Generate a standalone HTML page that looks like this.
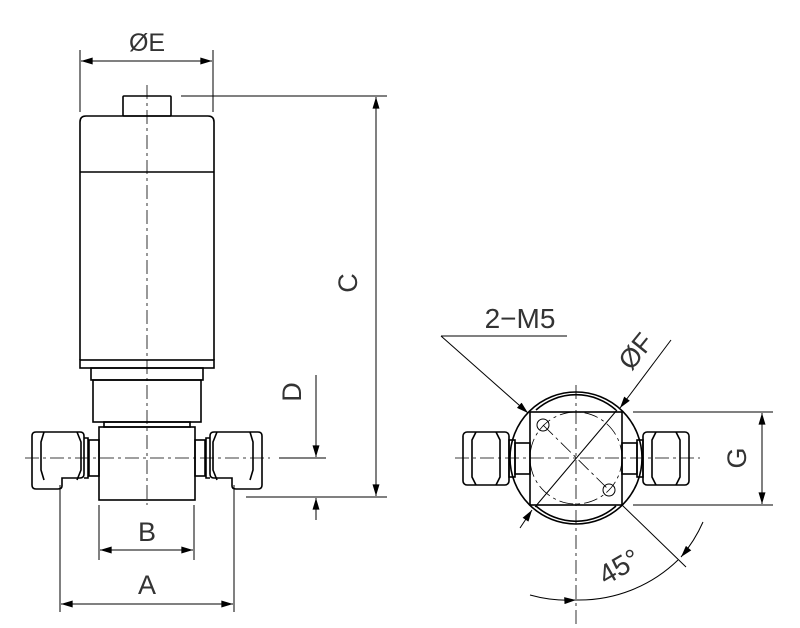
<!DOCTYPE html>
<html><head><style>html,body{margin:0;padding:0;background:#fff}svg{display:block}</style></head>
<body>
<svg width="800" height="628" viewBox="0 0 800 628" xmlns="http://www.w3.org/2000/svg" font-family="Liberation Sans, sans-serif">
<defs>
<marker id="a" viewBox="0 0 10 6" refX="10" refY="3" markerWidth="18" markerHeight="7" markerUnits="userSpaceOnUse" orient="auto-start-reverse"><path d="M0,0 L10,3 L0,6z" fill="#000"/></marker>
<marker id="b" viewBox="0 0 10 10" refX="5" refY="5" markerWidth="9" markerHeight="9" markerUnits="userSpaceOnUse" orient="auto"><rect x="0" y="2" width="10" height="6" fill="#000"/></marker>
</defs>
<g fill="none" stroke="#000" stroke-width="1">
<line x1="80" y1="50" x2="80" y2="112"/><line x1="213" y1="50" x2="213" y2="112"/>
<line x1="81" y1="61" x2="212" y2="61" marker-start="url(#a)" marker-end="url(#a)"/>
<line x1="181" y1="96" x2="387" y2="96"/>
<line x1="376" y1="97" x2="376" y2="496" marker-start="url(#a)" marker-end="url(#a)"/>
<line x1="246" y1="497" x2="387" y2="497"/>
<line x1="279" y1="458" x2="326" y2="458"/>
<line x1="316" y1="375" x2="316" y2="457" marker-end="url(#a)"/>
<line x1="316" y1="520" x2="316" y2="498" marker-end="url(#a)"/>
<line x1="99" y1="505" x2="99" y2="560"/><line x1="194" y1="505" x2="194" y2="560"/>
<line x1="100" y1="550" x2="193" y2="550" marker-start="url(#a)" marker-end="url(#a)"/>
<line x1="60" y1="485" x2="60" y2="612"/><line x1="234" y1="485" x2="234" y2="612"/>
<line x1="61" y1="604" x2="233" y2="604" marker-start="url(#a)" marker-end="url(#a)"/>
</g>
<g fill="none" stroke="#000" stroke-width="1.6">
<rect x="123" y="96" width="48" height="20" rx="1"/>
<path d="M80,360 V122 Q80,116 86,116 H208 Q214,116 214,122 V360"/>
<line x1="80" y1="172" x2="214" y2="172"/>
<rect x="80" y="360" width="134" height="8"/>
<rect x="91" y="368" width="112" height="12"/>
<rect x="93" y="380" width="108" height="42"/>
<rect x="104" y="422" width="86" height="5"/>
<rect x="99" y="427" width="96" height="73"/>
<rect x="89" y="440" width="10" height="36"/>
<path d="M32,436 Q32,432 36,432 H80 Q84,432 84,436 V474 Q84,478 80,478 H62 V486 Q62,489 58,489 H36 Q32,489 32,485 Z"/>
<path d="M44,432 L41,442 V470 L44,480 M77,432 L81,442 V470 L77,480"/>
<path d="M84,438 H88 V478 H84"/>
<rect x="195" y="440" width="10" height="36"/>
<path d="M262,436 Q262,432 258,432 H214 Q210,432 210,436 V474 Q210,478 214,478 H232 V486 Q232,489 236,489 H258 Q262,489 262,485 Z"/>
<path d="M250,432 L253,442 V470 L250,480 M217,432 L213,442 V470 L217,480"/>
<path d="M210,438 H206 V478 H210"/>
</g>
<g stroke="#000" stroke-width="0.8" stroke-dasharray="14,4,3,4" fill="none">
<line x1="147" y1="85" x2="147" y2="505"/>
<line x1="25" y1="458" x2="270" y2="458"/>
</g>
<g fill="none" stroke="#000" stroke-width="1.6">
<circle cx="576" cy="458" r="66"/>
<path d="M536,410 A60,60 0 0 1 616,410"/>
<path d="M536,506 A60,60 0 0 0 616,506"/>
<rect x="530" y="412" width="92" height="93"/>
<rect x="463" y="432" width="46" height="53" rx="4"/>
<path d="M476,432 L472,440 V477 L476,485 M496,432 L500,440 V477 L496,485"/>
<rect x="509" y="440" width="6" height="37"/><rect x="515" y="443" width="15" height="31"/>
<rect x="643" y="432" width="46" height="53" rx="4"/>
<path d="M656,432 L652,440 V477 L656,485 M676,432 L680,440 V477 L676,485"/>
<rect x="637" y="440" width="6" height="37"/><rect x="622" y="443" width="15" height="31"/>
</g>
<g fill="none" stroke="#000" stroke-width="1">
<circle cx="543" cy="425" r="6"/><circle cx="609" cy="490" r="6"/>
<line x1="441" y1="336" x2="567" y2="336"/>
<line x1="441" y1="336" x2="528" y2="413" marker-end="url(#a)"/>
<line x1="671" y1="340" x2="620" y2="408" marker-end="url(#a)"/>
<line x1="617" y1="410" x2="535" y2="507"/>
<line x1="520" y1="528" x2="532" y2="510" marker-end="url(#a)"/>
<line x1="633" y1="412" x2="773" y2="412"/><line x1="633" y1="505" x2="773" y2="505"/>
<line x1="762" y1="413" x2="762" y2="504" marker-start="url(#a)" marker-end="url(#a)"/>
<line x1="622" y1="505" x2="686" y2="567"/>
<path d="M530,595 A142,142 0 0 0 576,600" marker-end="url(#a)"/>
<path d="M576,600 A142,142 0 0 0 678,560"/>
<path d="M703,522 A142,142 0 0 1 681,557" marker-end="url(#a)"/>
</g>
<g stroke="#000" stroke-width="0.8" stroke-dasharray="14,4,3,4" fill="none">
<line x1="455" y1="458" x2="700" y2="458"/>
<line x1="576" y1="385" x2="576" y2="628"/>
<circle cx="576" cy="458" r="46"/>
<line x1="543" y1="425" x2="609" y2="490"/>
</g>
<g fill="#333" stroke="none" font-size="27">
<text x="147" y="51" text-anchor="middle" font-size="25">ØE</text>
<text x="0" y="0" transform="translate(357,283) rotate(-90)" text-anchor="middle">C</text>
<text x="0" y="0" transform="translate(301,392) rotate(-90)" text-anchor="middle">D</text>
<text x="147" y="541" text-anchor="middle">B</text>
<text x="147" y="594" text-anchor="middle">A</text>
<text x="520" y="328" text-anchor="middle" font-size="28">2−M5</text>
<text x="0" y="0" transform="translate(643,357) rotate(-51)" text-anchor="middle">ØF</text>
<text x="0" y="0" transform="translate(746,458) rotate(-90)" text-anchor="middle">G</text>
<text x="0" y="0" transform="translate(624,575) rotate(-30)" text-anchor="middle" font-size="28">45°</text>
</g>
</svg>
</body></html>
